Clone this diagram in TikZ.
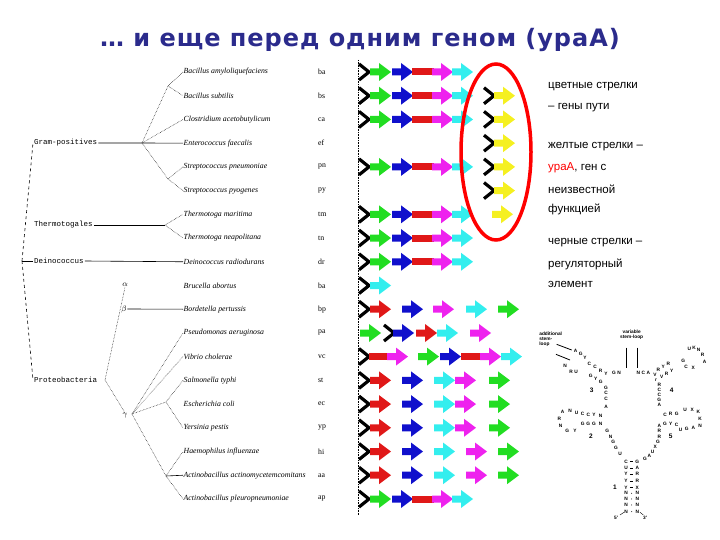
\documentclass[tikz,border=0pt]{standalone}
\usepackage{fontspec}
\setmainfont{Liberation Serif}
\newfontfamily\arial{Liberation Sans}
\newfontfamily\monof{Liberation Mono}
\newfontfamily\titlef[LetterSpace=4]{DejaVu Sans}
\definecolor{tblue}{HTML}{2B2B8C}
\definecolor{ggreen}{HTML}{22DD22}
\definecolor{gblue}{HTML}{1010CC}
\definecolor{gred}{HTML}{E01818}
\definecolor{gmag}{HTML}{EE22EE}
\definecolor{gcyan}{HTML}{33EEEE}
\definecolor{gyel}{HTML}{F5F020}
\newcommand{\garr}[3]{\fill[#1] (#2,#3-3.5) -- ++(9,0) -- ++(0,-5.5) -- (#2+21,#3) -- (#2+9,#3+9) -- ++(0,-5.5) -- (#2,#3+3.5) -- cycle;}
\newcommand{\gbar}[3]{\fill[gred] (#1,#3-3.5) rectangle (#2,#3+3.5);}
\newcommand{\chev}[2]{\draw[line width=3.2pt,black,line join=miter] (#1,#2-8) -- (#1+10,#2) -- (#1,#2+8);}
\begin{document}
\begin{tikzpicture}[x=1pt,y=-1pt,
  sp/.style={font=\fontsize{7.8}{8}\selectfont\itshape,anchor=west,inner sep=0.5pt},
  ab/.style={font=\fontsize{7.8}{8}\selectfont,anchor=west,inner sep=0pt},
  grp/.style={font=\monof\fontsize{7.5}{8}\selectfont,anchor=west,inner sep=1pt},
  dl/.style={densely dotted,line width=0.5pt},
  sl/.style={line width=0.6pt},
  rt/.style={font=\arial\fontsize{11.5}{13}\selectfont,anchor=west,inner sep=0pt},
  rn/.style={font=\arial\bfseries\fontsize{4.8}{5}\selectfont,inner sep=0pt}]
\useasboundingbox (0,0) rectangle (720,540);
\node[font=\titlef\bfseries\fontsize{24}{28}\selectfont,text=tblue] (title) at (360,40) {… и еще перед одним геном (ypaA)};
% dotted separator
\draw[densely dotted,line width=0.6pt] (358,60) -- (358,515);
% species
\foreach \i/\n/\a in {0/Bacillus amyloliquefaciens/ba,1/Bacillus subtilis/bs,2/Clostridium acetobutylicum/ca,3/Enterococcus faecalis/ef,4/Streptococcus pneumoniae/pn,5/Streptococcus pyogenes/py,6/Thermotoga maritima/tm,7/Thermotoga neapolitana/tn,8/Deinococcus radiodurans/dr,9/Brucella abortus/ba,10/Bordetella pertussis/bp,11/Pseudomonas aeruginosa/pa,12/Vibrio cholerae/vc,13/Salmonella typhi/st,14/Escherichia coli/ec,15/Yersinia pestis/yp,16/Haemophilus influenzae/hi,17/Actinobacillus actinomycetemcomitans/aa,18/Actinobacillus pleuropneumoniae/ap}{
  \node[sp] (s\i) at (183,{72+23.72*\i}) {\n};
  \node[ab] (a\i) at (318,{72+23.72*\i}) {\a};
}
% groups
\node[grp] (gp) at (33,143) {Gram-positives};
\node[grp] (tg) at (33,225) {Thermotogales};
\node[grp] (dc) at (33,261) {Deinococcus};
\node[grp] (pr) at (33,380) {Proteobacteria};
\coordinate (root) at (22,261);
\coordinate (gpn) at (142,143);
\coordinate (g1) at (168,86);
\coordinate (g2) at (168,179);
\coordinate (tgn) at (165,225);
\coordinate (prn) at (105,380);
\node[font=\fontsize{8}{9}\selectfont,inner sep=0.5pt] (al) at (125,285) {$\alpha$};
\node[font=\fontsize{8}{9}\selectfont,inner sep=0.5pt] (be) at (124,309) {$\beta$};
\node[font=\fontsize{8}{9}\selectfont,inner sep=0.5pt] (ga) at (125,416) {$\gamma$};
\coordinate (gn) at (132,414);
\coordinate (gs) at (166,402);
\coordinate (gh) at (166,476);
\draw[sl] (gp.east) -- (gpn) -- (s3.west);
\draw[dl] (gpn) -- (g1) -- (s0.west); \draw[dl] (g1) -- (s1.west);
\draw[dl] (gpn) -- (s2.west);
\draw[dl] (gpn) -- (g2) -- (s4.west); \draw[dl] (g2) -- (s5.west);
\draw[sl] (tg.east) -- (tgn);
\draw[dl] (tgn) -- (s6.west); \draw[dl] (tgn) -- (s7.west);
\draw[sl] (root) -- (dc.west); \draw[sl] (dc.east) -- (s8.west);
\draw[dashed,line width=0.6pt] (root) -- (gp.west);
\draw[dashed,line width=0.6pt] (root) -- (pr.west);
\draw[dl] (prn) -- (al.south);
\draw[dl] (prn) -- (ga.north);
\draw[sl] (be.east) -- (s10.west);
\draw[dl] (gn) -- (s11.west); \draw[dl] (gn) -- (s12.west);
\draw[dl] (gn) -- (gs); \draw[dl] (gs) -- (s13.west); \draw[dl] (gs) -- (s15.west);
\draw[dl] (gn) -- (gh); \draw[dl] (gh) -- (s16.west); \draw[sl] (gh) -- (s17.west); \draw[dl] (gh) -- (s18.west);
% gene arrows: standard rows
\foreach \i in {0,1,2,4,6,7,8}{
  \pgfmathsetmacro{\yy}{72+23.72*\i}
  \chev{359}{\yy}
  \garr{ggreen}{370}{\yy}\garr{gblue}{392}{\yy}\gbar{412}{434}{\yy}\garr{gmag}{432}{\yy}\garr{gcyan}{452}{\yy}
}
\foreach \i in {1,2,3,4,5}{
  \pgfmathsetmacro{\yy}{72+23.72*\i}
  \chev{484}{\yy}\garr{gyel}{494}{\yy}
}
\garr{gyel}{492}{214.3}
% row 9
\chev{359}{285.5}\garr{gcyan}{370}{285.5}
% row 10
\chev{359}{309.2}\garr{gred}{370}{309.2}\garr{gblue}{402}{309.2}\garr{gmag}{433}{309.2}\garr{gcyan}{466}{309.2}\garr{ggreen}{498}{309.2}
% row 11
\garr{ggreen}{360}{333}\chev{384}{333}\garr{gblue}{393}{333}\garr{gred}{416}{333}\garr{gcyan}{437}{333}\garr{gmag}{470}{333}
% row 12
\chev{359}{356.6}\gbar{369}{390}{356.6}\garr{gmag}{387}{356.6}\garr{ggreen}{418}{356.6}\garr{gblue}{440}{356.6}\gbar{461}{482}{356.6}\garr{gmag}{480}{356.6}\garr{gcyan}{501}{356.6}
% rows 13-15
\foreach \i in {13,14,15}{
  \pgfmathsetmacro{\yy}{72+23.72*\i}
  \chev{359}{\yy}\garr{gred}{370}{\yy}\garr{gblue}{402}{\yy}\garr{gcyan}{434}{\yy}\garr{gmag}{455}{\yy}\garr{ggreen}{489}{\yy}
}
\foreach \i in {16,17}{
  \pgfmathsetmacro{\yy}{72+23.72*\i}
  \chev{359}{\yy}\garr{gred}{370}{\yy}\garr{gblue}{402}{\yy}\garr{gcyan}{434}{\yy}\garr{gmag}{466}{\yy}\garr{ggreen}{498}{\yy}
}
\chev{359}{499}\garr{ggreen}{370}{499}\garr{gblue}{392}{499}\gbar{412}{434}{499}\garr{gmag}{432}{499}\garr{gcyan}{452}{499}
% ellipse
\draw[red,line width=3.5pt] (496,152) ellipse [x radius=35, y radius=88];
% right texts
\node[rt] (t1) at (548,87) {цветные стрелки};
\node[rt] (t2) at (548,108) {– гены пути};
\node[rt] (t3) at (548,147) {желтые стрелки –};
\node[rt] (t4) at (548,168) {\textcolor{red}{ypaA}, ген с};
\node[rt] (t5) at (548,189) {неизвестной};
\node[rt] (t6) at (548,209) {функцией};
\node[rt] (t7) at (548,243) {черные стрелки –};
\node[rt] (t8) at (548,264) {регуляторный};
\node[rt] (t9) at (548,284) {элемент};
% RNA structure
\begin{scope}[xshift=530pt,yshift=-325pt,x=0.3333pt,y=-0.3333pt]
\node[rn,align=left] (add) at (62,42) {additional\\stem-\\loop};
\node[rn,align=center] (var) at (305,30) {variable\\stem-loop};
\draw[line width=0.8pt] (80,58) -- (125,75); \draw[line width=0.8pt] (78,88) -- (120,105);
\draw[line width=0.8pt] (290,68) -- (290,130); \draw[line width=0.8pt] (322,68) -- (322,130);
\foreach \l/\x/\y in {A/137/78,G/152/88,Y/165/100,C/178/118,C/195/126,R/212/138,Y/228/147,G/252/143,N/267/143,
  N/105/122,R/123/140,U/138/140,G/182/152,Y/197/162,G/212/172,
  G/228/188,C/228/205,C/228/222,A/228/245,
  A/98/262,N/120/258,U/140/265,C/158/268,C/175/270,Y/192/270,N/212/272,
  R/88/283,N/92/302,G/112/318,Y/135/318,G/158/298,G/175/298,G/192/298,N/212/298,
  G/232/318,N/242/335,G/250/352,G/258/370,U/270/388,
  C/288/410,U/288/430,Y/288/448,Y/288/468,Y/288/488,N/288/505,N/288/522,N/288/540,N/288/560,
  G/322/410,A/322/430,R/322/448,R/322/468,X/322/488,N/322/505,N/322/522,N/322/540,N/322/560,
  G/345/402,A/358/392,U/368/380,X/376/365,G/384/350,R/388/335,R/388/318,A/388/302,
  C/405/270,R/422/268,G/440/268,U/465/255,X/487/255,K/505/262,K/510/282,N/510/302,A/490/308,G/470/312,U/452/314,C/440/300,Y/422/298,G/405/298,
  R/388/180,C/388/195,C/388/210,G/388/225,A/388/240,
  N/325/145,C/340/145,A/355/145,V/375/150,r/378/165,V/395/155,R/410/148,Y/425/138,R/385/135,Y/400/125,R/415/118,G/460/108,C/468/125,X/490/128,U/478/72,K/492/68,N/506/75,R/518/90,A/524/110}{
  \node[rn] at (\x,\y) {\l};
}
\foreach \y in {410,430,448,468,488}{\draw[line width=0.4pt] (300,\y) -- (310,\y);}
\foreach \y in {505,522,540,560}{\fill (305,\y) circle (1.5);}
\node[rn,font=\arial\bfseries\fontsize{6.5}{7}\selectfont] (n1) at (255,488) {1};
\node[rn,font=\arial\bfseries\fontsize{6.5}{7}\selectfont] (n2) at (183,335) {2};
\node[rn,font=\arial\bfseries\fontsize{6.5}{7}\selectfont] (n3) at (185,195) {3};
\node[rn,font=\arial\bfseries\fontsize{6.5}{7}\selectfont] (n4) at (425,195) {4};
\node[rn,font=\arial\bfseries\fontsize{6.5}{7}\selectfont] (n5) at (422,335) {5};
\node[rn] (p5) at (258,580) {5'}; \node[rn] (p3) at (345,580) {3'};
\draw[line width=0.4pt] (270,570) -- (282,562); \draw[line width=0.4pt] (330,562) -- (340,570);
\end{scope}
\end{tikzpicture}
\end{document}
